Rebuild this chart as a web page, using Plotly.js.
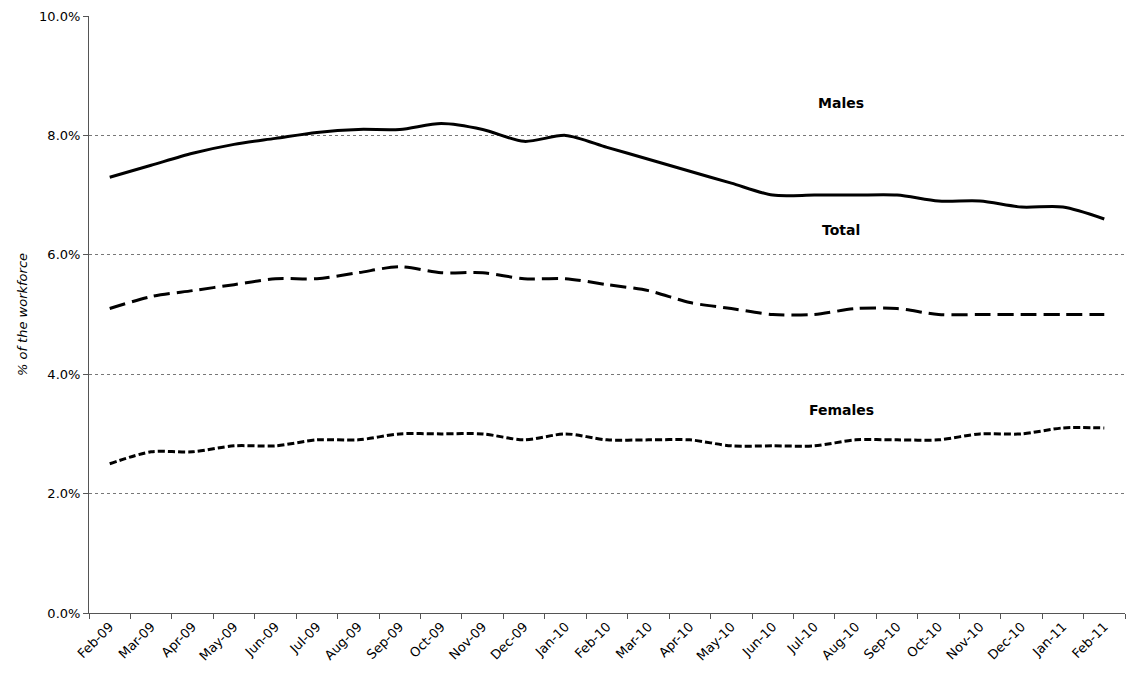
<!DOCTYPE html><html><head><script src="https://cdn.plot.ly/plotly-3.0.1.min.js"></script></head><body style="margin:0"><div id="c" style="width:1142px;height:674px"></div><script>
const months=['Feb-09','Mar-09','Apr-09','May-09','Jun-09','Jul-09','Aug-09','Sep-09','Oct-09','Nov-09','Dec-09','Jan-10','Feb-10','Mar-10','Apr-10','May-10','Jun-10','Jul-10','Aug-10','Sep-10','Oct-10','Nov-10','Dec-10','Jan-11','Feb-11'];
const males=[7.3,7.5,7.7,7.85,7.95,8.05,8.1,8.1,8.2,8.1,7.9,8.0,7.8,7.6,7.4,7.2,7.0,7.0,7.0,7.0,6.9,6.9,6.8,6.8,6.6];
const total=[5.1,5.3,5.4,5.5,5.6,5.6,5.7,5.8,5.7,5.7,5.6,5.6,5.5,5.4,5.2,5.1,5.0,5.0,5.1,5.1,5.0,5.0,5.0,5.0,5.0];
const females=[2.5,2.7,2.7,2.8,2.8,2.9,2.9,3.0,3.0,3.0,2.9,3.0,2.9,2.9,2.9,2.8,2.8,2.8,2.9,2.9,2.9,3.0,3.0,3.1,3.1];
const labels=[['Males',8.55],['Total',6.42],['Females',3.4]];
const f='DejaVu Sans, sans-serif';
const tr=(y,d)=>({x:months,y:y,type:'scatter',mode:'lines',line:{color:'#000',width:3,dash:d,shape:'spline',smoothing:0.8},hoverinfo:'none'});
Plotly.newPlot('c',[tr(males,'solid'),tr(total,'16px,7px'),tr(females,'7px,3px')],{
width:1142,height:674,showlegend:false,margin:{l:89,r:17,t:16,b:61},paper_bgcolor:'#fff',plot_bgcolor:'#fff',
font:{family:f,size:13,color:'#000'},
xaxis:{type:'category',showline:true,linecolor:'#555',ticks:'outside',ticklen:5,tickcolor:'#555',tickson:'boundaries',tickangle:-45,showgrid:false,range:[-0.5,24.5],tickfont:{size:13}},
yaxis:{range:[0,10],dtick:2,tickformat:'.1f',ticksuffix:'%',showline:true,linecolor:'#555',ticks:'outside',ticklen:5,tickcolor:'#555',gridcolor:'#777',griddash:'dot',zeroline:false,tickfont:{size:13},
title:{text:'<i>% of the workforce</i>',font:{size:13},standoff:8}},
annotations:labels.map(l=>({x:17.65,y:l[1],xref:'x',yref:'y',text:'<b>'+l[0]+'</b>',showarrow:false,font:{size:14}}))
},{displayModeBar:false});
</script></body></html>
